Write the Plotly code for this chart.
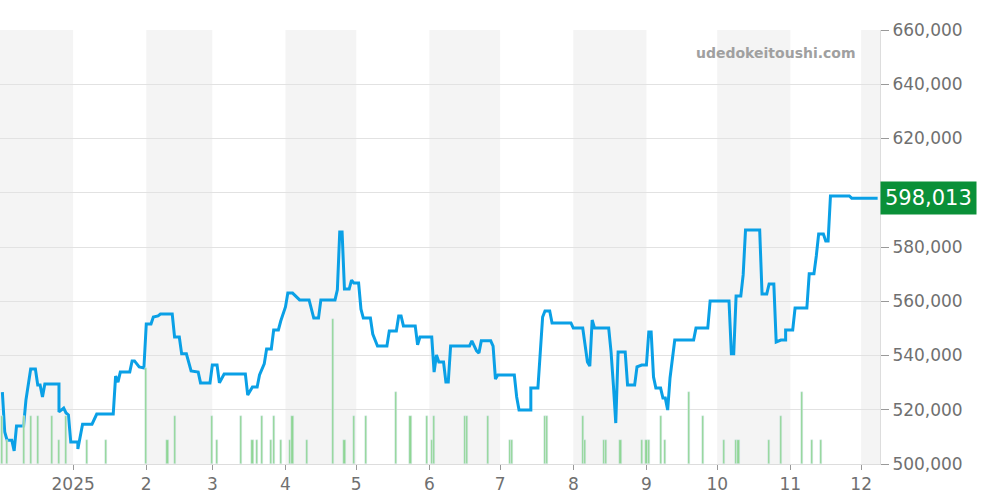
import pandas as pd
import plotly.graph_objects as go
from plotly.subplots import make_subplots

start = pd.Timestamp("2024-12-01")

# price line: days since 2024-12-01, price in thousands of yen
price_day = [1, 2, 3, 5, 6, 7, 10, 11, 13, 15, 16, 17, 18, 19, 25, 25, 27, 28, 29, 30,
             33, 33, 35, 39, 41, 48, 49, 50, 51, 55, 56, 57, 59, 61, 62, 64, 65, 67, 68, 73,
             74, 76, 77, 79, 81, 84, 85, 89, 90, 92, 93, 95, 104, 105, 107, 109, 110, 112, 113, 115,
             116, 118, 119, 121, 122, 124, 127, 131, 133, 135, 136, 142, 143, 144, 145, 146, 148, 149, 150, 152,
             153, 154, 157, 158, 160, 164, 165, 168, 169, 170, 171, 176, 177, 178, 183, 184, 185, 186, 188, 189,
             190, 191, 199, 200, 202, 203, 204, 208, 209, 210, 211, 218, 219, 220, 225, 225, 228, 229, 230, 231,
             233, 234, 242, 243, 247, 249, 250, 251, 252, 258, 259, 260, 261, 262, 265, 266, 269, 270, 272, 274,
             275, 276, 277, 278, 280, 281, 282, 283, 284, 286, 294, 295, 300, 301, 309, 310, 311, 312, 314, 315,
             316, 322, 323, 325, 326, 328, 329, 331, 333, 333, 336, 337, 342, 343, 345, 346, 347, 349, 350, 351,
             352, 360, 361, 372]
price_k = [526.5, 511.8, 508.8, 508.8, 504.8, 514.0, 514.0, 523.6, 535.0, 535.0, 529.1, 529.1, 524.7, 529.5, 529.5, 519.2, 520.6, 518.8, 518.1, 508.1,
           508.1, 505.5, 514.7, 514.7, 518.4, 518.4, 532.4, 530.2, 533.9, 533.9, 538.0, 538.0, 535.8, 535.4, 551.6, 551.6, 554.2, 554.6, 555.3, 555.3,
           546.8, 546.8, 540.6, 540.6, 534.3, 533.9, 529.9, 529.9, 536.5, 536.5, 529.9, 533.2, 533.2, 525.4, 528.4, 528.4, 532.8, 536.9, 542.4, 542.4,
           549.4, 549.4, 552.7, 557.9, 563.0, 563.0, 560.5, 560.5, 553.8, 553.8, 560.5, 560.5, 564.2, 585.5, 585.5, 564.5, 564.5, 567.8, 566.7, 566.7,
           557.1, 553.8, 553.8, 547.9, 543.5, 543.5, 549.0, 549.0, 554.6, 554.6, 550.9, 550.9, 543.9, 546.8, 546.8, 533.9, 540.2, 537.6, 537.6, 530.2,
           530.2, 543.5, 543.5, 545.4, 541.7, 540.9, 545.4, 545.4, 543.5, 531.3, 532.8, 532.8, 524.7, 519.9, 519.9, 528.0, 528.0, 542.0, 554.2, 556.4,
           556.4, 552.0, 552.0, 550.1, 550.1, 537.6, 536.1, 553.1, 550.1, 550.1, 541.3, 529.1, 515.1, 541.3, 541.3, 529.1, 529.1, 535.8, 536.5, 536.5,
           548.7, 548.7, 532.1, 528.0, 528.0, 524.3, 524.3, 519.9, 531.7, 545.7, 545.7, 550.1, 550.1, 560.1, 560.1, 540.6, 540.6, 561.9, 561.9, 569.7,
           586.3, 586.3, 562.7, 562.7, 566.4, 566.4, 545.0, 545.7, 545.7, 549.4, 549.4, 557.5, 557.5, 570.1, 570.1, 576.7, 584.8, 584.8, 582.2, 582.2,
           598.8, 598.8, 598.0, 598.0]
last_price = 598013

# trade counts (bars)
vol_day = [1, 3, 10, 13, 16, 22, 25, 28, 37, 45,
           62, 71, 74, 90, 92, 102, 107, 109, 111, 115,
           116, 119, 123, 124, 130, 141, 146, 150, 155, 168,
           174, 181, 183, 184, 197, 198, 207, 216, 217, 231,
           232, 247, 248, 256, 257, 263, 272, 274, 275, 280,
           282, 292, 298, 307, 312, 313, 326, 331, 340, 344,
           348]
vol_n = [2, 1, 2, 2, 2, 2, 1, 2, 1, 1,
         4, 1, 2, 2, 1, 2, 1, 1, 2, 1,
         2, 1, 1, 2, 1, 6, 1, 2, 2, 3,
         2, 2, 1, 2, 2, 2, 2, 1, 1, 2,
         2, 2, 1, 1, 1, 1, 1, 1, 1, 2,
         1, 3, 2, 1, 1, 1, 1, 2, 3, 1,
         1]

tick_vals = ["2025-01-01", "2025-02-01", "2025-03-01", "2025-04-01", "2025-05-01", "2025-06-01",
             "2025-07-01", "2025-08-01", "2025-09-01", "2025-10-01", "2025-11-01", "2025-12-01"]
tick_text = ["2025", "2", "3", "4", "5", "6", "7", "8", "9", "10", "11", "12"]

px_dates = start + pd.to_timedelta(price_day, unit="D")
px_vals = [p * 1000 for p in price_k]
v_dates = start + pd.to_timedelta(vol_day, unit="D")
x_end = start + pd.Timedelta(days=373)

fig = make_subplots(specs=[[{"secondary_y": True}]])
fig.add_trace(go.Bar(x=v_dates, y=vol_n, marker_color="#8fd694", width=0.9 * 86400000,
                     hoverinfo="skip"), secondary_y=True)
fig.add_trace(go.Scatter(x=px_dates, y=px_vals, mode="lines",
                         line=dict(color="#0aa0e6", width=3)), secondary_y=False)

# alternating month bands
shapes = []
months = pd.date_range("2024-12-01", "2026-01-01", freq="MS")
for i in range(0, len(months) - 1, 2):
    shapes.append(dict(type="rect", xref="x", yref="paper", x0=months[i], x1=min(months[i + 1], x_end),
                       y0=0, y1=1, fillcolor="#f4f4f4", line_width=0, layer="below"))

fig.update_layout(
    width=1000, height=500, showlegend=False, bargap=0,
    margin=dict(l=0, r=120, t=30, b=36, autoexpand=False),
    plot_bgcolor="white", paper_bgcolor="white",
    font=dict(family="DejaVu Sans", color="#707070", size=17),
    shapes=shapes,
    annotations=[
        dict(text="udedokeitoushi.com", xref="paper", yref="paper", x=0.975, y=0.97,
             xanchor="right", yanchor="top", showarrow=False,
             font=dict(size=14, color="#a0a0a0", family="DejaVu Sans", weight="bold")),
        dict(text=f"{last_price:,}", xref="paper", yref="y", x=1.0, y=last_price,
             xanchor="left", yanchor="middle", showarrow=False, bgcolor="#0a9038",
             font=dict(size=21, color="white"), borderpad=4),
    ],
)
fig.update_xaxes(range=[start, x_end], tickvals=tick_vals, ticktext=tick_text, domain=[0, 1],
                 showgrid=False, ticks="outside", ticklen=5, tickcolor="#999999",
                 showline=True, linecolor="#dddddd", automargin=False)
fig.update_yaxes(range=[500000, 660000], dtick=20000, tickformat=",", side="right",
                 gridcolor="#e2e2e2", ticks="outside", ticklen=8, tickcolor="#999999",
                 showline=True, linecolor="#dddddd", automargin=False, secondary_y=False)
fig.update_yaxes(range=[0, 18], visible=False, showgrid=False, automargin=False, secondary_y=True)

fig.write_html("out.html", config={"displayModeBar": False},
               post_script="document.body.style.margin='0px';")
